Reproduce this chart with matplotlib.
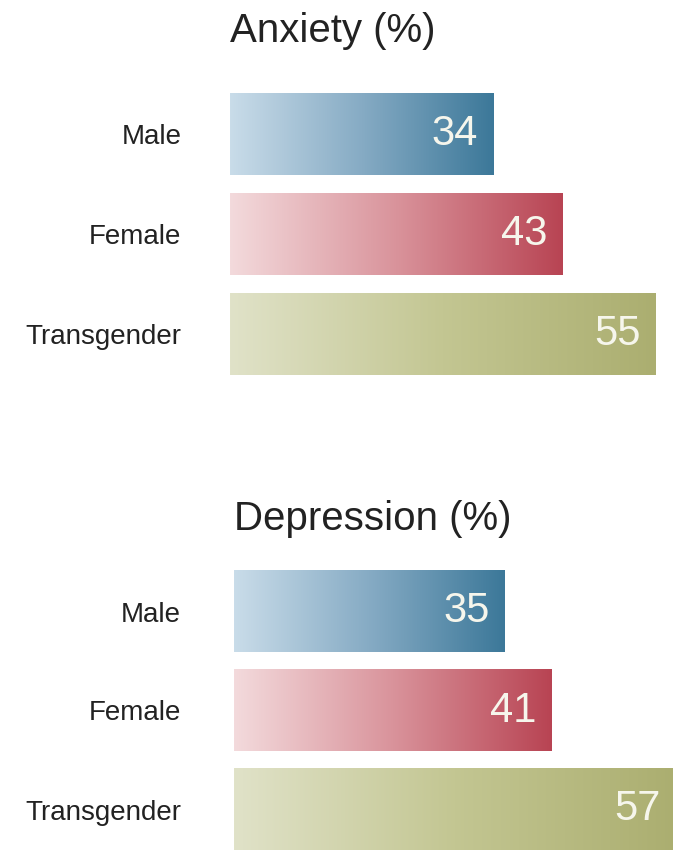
import numpy as np
import matplotlib
matplotlib.use("Agg")
import matplotlib.pyplot as plt
from matplotlib.colors import LinearSegmentedColormap

plt.rcParams['font.family'] = ['Liberation Sans', 'DejaVu Sans']

# data
groups = ["Male", "Female", "Transgender"]
anxiety = [34, 43, 55]
depression = [35, 41, 57]
titles = ["Anxiety (%)", "Depression (%)"]

# light -> dark gradient for each group
grad_colors = [
    ["#c9dce9", "#86abc4", "#3c7899"],
    ["#f3dadc", "#d9939b", "#b84453"],
    ["#e0e2c8", "#c3c692", "#abae70"],
]

W, H = 673, 852
fig = plt.figure(figsize=(W / 100, H / 100), dpi=100)


def px_axes(left, top, bottom):
    # axes placed in pixel coords of the image
    return fig.add_axes([left / W, 1 - bottom / H, (W - left) / W, (bottom - top) / H])


def draw_panel(ax, values, title, left_px, title_y, ylim, tick_pad):
    scale = 7.74  # px per unit
    ypos = np.arange(len(groups))
    bars = ax.barh(ypos, values, height=0.82, color=[c[-1] for c in grad_colors])
    grad = np.linspace(0, 1, 256).reshape(1, -1)
    for b, cols, v, y in zip(bars, grad_colors, values, ypos):
        cmap = LinearSegmentedColormap.from_list("g", cols)
        x0, y0 = b.get_x(), b.get_y()
        ax.imshow(grad, cmap=cmap, aspect="auto",
                  extent=(x0, x0 + b.get_width(), y0 + b.get_height(), y0),
                  clip_path=b, zorder=2)
        ax.text(v - 15 / scale, y, str(v), ha="right", va="center",
                fontsize=30, color="#f6f6ec", zorder=3)
    ax.set_yticks(ypos)
    ax.set_yticklabels(groups, fontsize=20, color="#222222")
    ax.tick_params(axis="y", length=0, pad=tick_pad)
    ax.set_xticks([])
    for s in ax.spines.values():
        s.set_visible(False)
    ax.set_xlim(0, (W - left_px) / scale)
    ax.set_ylim(*ylim)
    fig.text(left_px / W, 1 - title_y / H, title, fontsize=29, color="#222222",
             ha="left", va="center")


ax1 = px_axes(230, 84, 384)
draw_panel(ax1, anxiety, titles[0], 230, 31, (2.5, -0.5), 35)

ax2 = px_axes(234, 562, 852)
draw_panel(ax2, depression, titles[1], 234, 519, (2 + 42.5 / 99, -0.5), 38)

fig.savefig("out.png", dpi=100, facecolor="white")
